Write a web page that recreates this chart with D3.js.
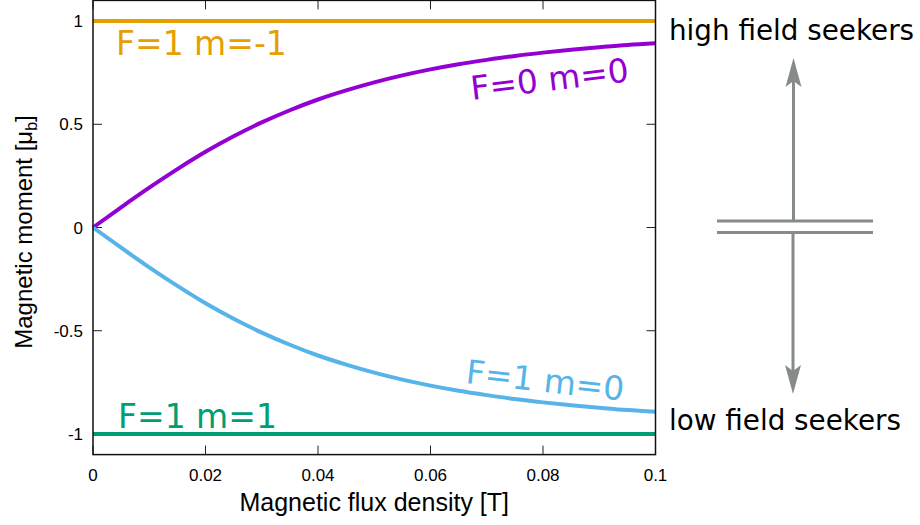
<!DOCTYPE html>
<html>
<head>
<meta charset="utf-8">
<script src="https://cdn.jsdelivr.net/npm/d3@7"></script>
<style>
  body { margin: 0; background: #fff; }
  svg { display: block; }
</style>
</head>
<body>
<svg id="chart" width="920" height="525"></svg>
<script>
// field values (T) and magnetic moments
var fluxB = [0, 0.005, 0.01, 0.015, 0.02, 0.025, 0.03, 0.035, 0.04, 0.045, 0.05,
             0.055, 0.06, 0.065, 0.07, 0.075, 0.08, 0.085, 0.09, 0.095, 0.1];
var momentF0m0 = [0, 0.098, 0.193, 0.283, 0.367, 0.442, 0.509, 0.568, 0.620, 0.664, 0.703,
                  0.737, 0.766, 0.791, 0.812, 0.831, 0.847, 0.861, 0.873, 0.884, 0.892];
var momentF1m0 = [0, -0.098, -0.193, -0.283, -0.367, -0.442, -0.509, -0.568, -0.620, -0.664, -0.703,
                  -0.737, -0.766, -0.791, -0.812, -0.831, -0.847, -0.861, -0.873, -0.884, -0.892];
var momentF1mMinus1 = [1, 1];
var momentF1m1 = [-1, -1];
var flatB = [0, 0.1];

var xTicks = [0, 0.02, 0.04, 0.06, 0.08, 0.1];
var yTicks = [-1, -0.5, 0, 0.5, 1];

var svg = d3.select("#chart");

var x = d3.scaleLinear().domain([0, 0.1]).range([93, 655.5]);
var y = d3.scaleLinear().domain([-1.1, 1.1]).range([454.6, 0.4]);

var tickFont = "'Liberation Sans', Arial, sans-serif";
var labelFont = "'DejaVu Sans', sans-serif";

// ticks on all four sides, pointing inward
var tickLen = 9;
svg.selectAll(".xtickB").data(xTicks).enter().append("line")
    .attr("x1", d => x(d)).attr("x2", d => x(d))
    .attr("y1", y(-1.1)).attr("y2", y(-1.1) - tickLen)
    .attr("stroke", "#222").attr("stroke-width", 1);
svg.selectAll(".xtickT").data(xTicks).enter().append("line")
    .attr("x1", d => x(d)).attr("x2", d => x(d))
    .attr("y1", y(1.1)).attr("y2", y(1.1) + tickLen)
    .attr("stroke", "#222").attr("stroke-width", 1);
svg.selectAll(".ytickL").data(yTicks).enter().append("line")
    .attr("x1", x(0)).attr("x2", x(0) + tickLen)
    .attr("y1", d => y(d)).attr("y2", d => y(d))
    .attr("stroke", "#222").attr("stroke-width", 1);
svg.selectAll(".ytickR").data(yTicks).enter().append("line")
    .attr("x1", x(0.1)).attr("x2", x(0.1) - tickLen)
    .attr("y1", d => y(d)).attr("y2", d => y(d))
    .attr("stroke", "#222").attr("stroke-width", 1);

// tick labels (plain hyphen for minus, as in the original)
svg.selectAll(".xlab").data(xTicks).enter().append("text")
    .attr("x", d => x(d)).attr("y", 481)
    .attr("text-anchor", "middle")
    .style("font-family", tickFont).style("font-size", "17px")
    .text(d => String(d));
svg.selectAll(".ylab").data(yTicks).enter().append("text")
    .attr("x", 83).attr("y", d => y(d)).attr("dy", "0.36em")
    .attr("text-anchor", "end")
    .style("font-family", tickFont).style("font-size", "17px")
    .text(d => String(d));

// curves
var line = d3.line()
    .x(d => x(d[0])).y(d => y(d[1]))
    .curve(d3.curveMonotoneX);

function drawSeries(bs, ms, color) {
    svg.append("path")
        .datum(d3.zip(bs, ms))
        .attr("fill", "none")
        .attr("stroke", color)
        .attr("stroke-width", 4)
        .attr("d", line);
}
drawSeries(flatB, momentF1mMinus1, "#e69f00");
drawSeries(fluxB, momentF0m0, "#9400d3");
drawSeries(fluxB, momentF1m0, "#56b4e9");
drawSeries(flatB, momentF1m1, "#009e73");

// frame
svg.append("rect")
    .attr("x", x(0)).attr("y", y(1.1))
    .attr("width", x(0.1) - x(0)).attr("height", y(-1.1) - y(1.1))
    .attr("fill", "none").attr("stroke", "#111").attr("stroke-width", 1.5);

// curve labels
svg.append("text").attr("x", 116).attr("y", 55)
    .style("font-family", labelFont).style("font-size", "33px")
    .attr("fill", "#e69f00").text("F=1 m=-1");
svg.append("text").attr("x", 118).attr("y", 428)
    .style("font-family", labelFont).style("font-size", "33px")
    .attr("fill", "#009e73").text("F=1 m=1");
svg.append("text")
    .attr("transform", "translate(472,100) rotate(-6.8)")
    .style("font-family", labelFont).style("font-size", "33px")
    .attr("fill", "#9400d3").text("F=0 m=0");
svg.append("text")
    .attr("transform", "translate(465,383) rotate(6.4)")
    .style("font-family", labelFont).style("font-size", "33px")
    .attr("fill", "#56b4e9").text("F=1 m=0");

// axis titles
svg.append("text")
    .attr("x", (x(0) + x(0.1)) / 2).attr("y", 511)
    .attr("text-anchor", "middle")
    .style("font-family", tickFont).style("font-size", "25px")
    .text("Magnetic flux density [T]");
var yt = svg.append("text")
    .attr("transform", "translate(32,232) rotate(-90)")
    .attr("text-anchor", "middle")
    .style("font-family", tickFont).style("font-size", "24px");
yt.append("tspan").text("Magnetic moment [\u03bc");
yt.append("tspan").attr("dy", 5).style("font-size", "16px").text("b");
yt.append("tspan").attr("dy", -5).text("]");

// right-hand diagram
var grey = "#858c88";

svg.append("line").attr("x1", 717).attr("x2", 873).attr("y1", 221).attr("y2", 221)
    .attr("stroke", grey).attr("stroke-width", 3);
svg.append("line").attr("x1", 717).attr("x2", 873).attr("y1", 232.5).attr("y2", 232.5)
    .attr("stroke", grey).attr("stroke-width", 3);

function arrow(x0, y0, y1) {
    var dir = y1 < y0 ? -1 : 1;
    svg.append("line").attr("x1", x0).attr("x2", x0).attr("y1", y0).attr("y2", y1 - dir * 20)
        .attr("stroke", grey).attr("stroke-width", 3);
    svg.append("path")
        .attr("d", `M${x0},${y1} L${x0 - 8},${y1 - dir * 29} L${x0},${y1 - dir * 23} L${x0 + 8},${y1 - dir * 29} Z`)
        .attr("fill", grey);
}
arrow(793.5, 221, 58);
arrow(793, 232.5, 394);

svg.append("text").attr("x", 669).attr("y", 40)
    .style("font-family", labelFont).style("font-size", "27.8px")
    .text("high field seekers");
svg.append("text").attr("x", 669).attr("y", 430)
    .style("font-family", labelFont).style("font-size", "27.8px")
    .text("low field seekers");
</script>
</body>
</html>
